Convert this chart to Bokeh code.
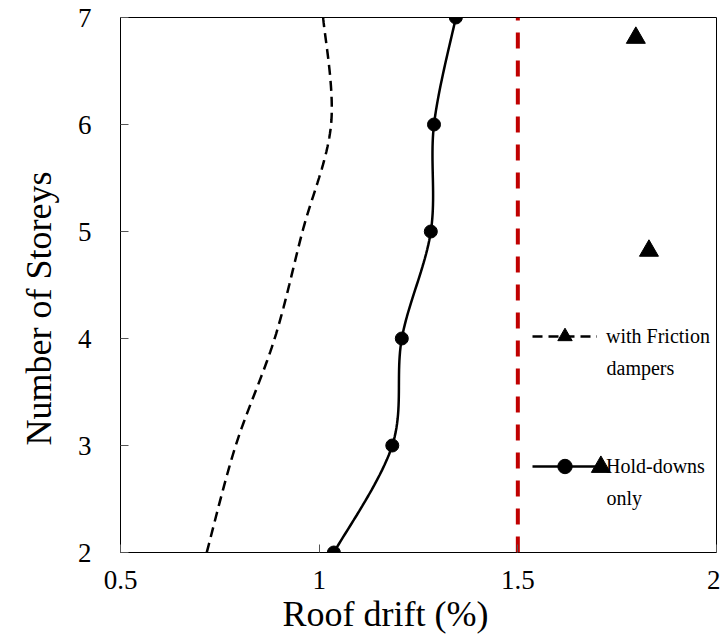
import numpy as np
from bokeh.plotting import figure
from bokeh.models import Range1d, Legend, LegendItem, Label, Title, CustomJSTickFormatter
from bokeh.embed import file_html
from bokeh.resources import INLINE

# ---- data ----
storeys = [2, 3, 4, 5, 6, 7]
hold_downs = [1.037, 1.184, 1.208, 1.281, 1.289, 1.344]
friction = [0.717, 0.790, 0.888, 0.958, 1.030, 1.010]
stray_x = [1.797, 1.830, 1.709]
stray_y = [6.81, 4.82, 2.80]
drift_limit = [1.5, 1.5]
limit_y = [2, 7]
x_ticks = [0.5, 1, 1.5, 2]
y_ticks = [2, 3, 4, 5, 6, 7]


def smooth(xs, ys, n=24):
    pts = np.column_stack([xs, ys]).astype(float)
    P = np.vstack([pts[0], pts, pts[-1]])
    out = []
    t = np.linspace(0, 1, n, endpoint=False)[:, None]
    for i in range(1, len(P) - 2):
        p0, p1, p2, p3 = P[i - 1], P[i], P[i + 1], P[i + 2]
        seg = 0.5 * ((2 * p1) + (-p0 + p2) * t + (2 * p0 - 5 * p1 + 4 * p2 - p3) * t ** 2
                     + (-p0 + 3 * p1 - 3 * p2 + p3) * t ** 3)
        out.append(seg)
    out.append(pts[-1][None, :])
    a = np.vstack(out)
    return a[:, 0], a[:, 1]


FONT = "Liberation Serif"

p = figure(width=720, height=637, x_range=Range1d(0.5, 2), y_range=Range1d(2, 7),
           output_backend="svg", toolbar_location=None,
           min_border_left=120, min_border_top=17, min_border_right=4, min_border_bottom=85)

p.grid.visible = False
p.outline_line_color = "black"
p.outline_line_width = 1

for ax in (p.xaxis[0], p.yaxis[0]):
    ax.axis_line_color = None
    ax.major_tick_in = 8
    ax.major_tick_out = 0
    ax.minor_tick_line_color = None
    ax.major_tick_line_color = "#555555"
    ax.major_label_text_font = FONT
    ax.major_label_text_font_size = "27px"
    ax.major_label_text_color = "black"

p.xaxis.ticker = x_ticks
p.yaxis.ticker = y_ticks
p.xaxis.formatter = CustomJSTickFormatter(code="return tick.toString();")
p.yaxis.formatter = CustomJSTickFormatter(code="return tick.toString();")
p.xaxis.major_label_standoff = 18
p.yaxis.major_label_standoff = 29

# axis titles (offset from centre as in the reference)
p.add_layout(Title(text="Roof drift (%)", align="left", offset=162, standoff=0,
                   text_font=FONT, text_font_size="36px", text_font_style="normal",
                   text_color="black"), "below")
p.add_layout(Title(text="Number of Storeys", align="left", offset=107, standoff=31,
                   text_font=FONT, text_font_size="36px", text_font_style="normal",
                   text_color="black"), "left")

# red drift limit
p.line(drift_limit, limit_y, line_color="#C00000", line_width=4, line_dash="16 12")

# friction dampers (dashed)
fx, fy = smooth(friction, storeys)
r_fric = p.line(fx, fy, line_color="black", line_width=2.5, line_dash="10 6")

# stray triangle markers
r_tri = p.scatter(stray_x, stray_y, marker="triangle", size=19, color="black")

# hold-downs only (solid with circles)
hx, hy = smooth(hold_downs, storeys)
r_hold = p.line(hx, hy, line_color="black", line_width=2.5)
r_circ = p.scatter(hold_downs, storeys, marker="circle", size=13, color="black")

legend = Legend(items=[LegendItem(label="with Friction", renderers=[r_fric, r_tri]),
                       LegendItem(label="Hold-downs", renderers=[r_hold, r_circ])],
                location=(412, 68), glyph_width=65, glyph_height=36, label_height=20,
                label_standoff=9, spacing=94, padding=0, margin=0,
                label_text_font=FONT, label_text_font_size="20px", label_text_color="black",
                background_fill_alpha=0, border_line_color=None)
p.add_layout(legend)

p.add_layout(Label(x=486, y=185, x_units="screen", y_units="screen", text="dampers",
                   text_font=FONT, text_font_size="20px", text_color="black",
                   text_baseline="alphabetic"))
p.add_layout(Label(x=486, y=55, x_units="screen", y_units="screen", text="only",
                   text_font=FONT, text_font_size="20px", text_color="black",
                   text_baseline="alphabetic"))

open("out.html", "w").write(file_html(p, INLINE))
